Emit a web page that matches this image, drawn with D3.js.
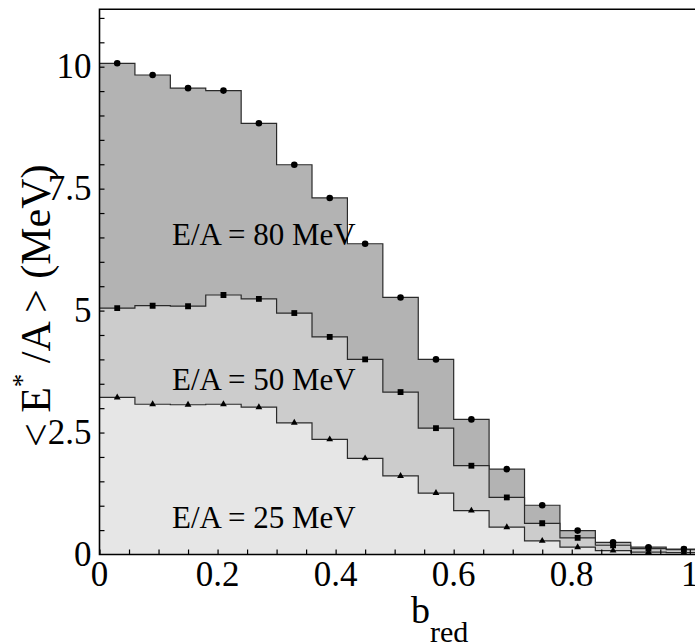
<!DOCTYPE html>
<html>
<head>
<meta charset="utf-8">
<script src="https://cdn.jsdelivr.net/npm/d3@7"></script>
<style>
body{margin:0;background:#fff;}
svg text{font-family:"Liberation Serif","Times New Roman",serif;fill:#000;}
</style>
</head>
<body>
<script>
// b_red bin centres (bins are 0.06 wide)
var bCenters = [0.03,0.09,0.15,0.21,0.27,0.33,0.39,0.45,0.51,0.57,0.63,0.69,0.75,0.81,0.87,0.93,0.99];
var binW = 0.06;
// <E*/A> in MeV for each beam energy
var e80 = [10.07,9.83,9.56,9.51,8.84,7.99,7.31,6.37,5.27,4.00,2.77,1.75,1.01,0.49,0.25,0.15,0.11];
var e50 = [5.05,5.10,5.09,5.32,5.24,4.95,4.46,4.00,3.33,2.59,1.82,1.17,0.64,0.34,0.19,0.12,0.10];
var e25 = [3.22,3.08,3.07,3.08,3.02,2.70,2.36,1.97,1.61,1.26,0.90,0.56,0.28,0.15,0.08,0.05,0.04];
var seriesNames = ["E/A = 80 MeV","E/A = 50 MeV","E/A = 25 MeV"];
var xTickVals = [0,0.2,0.4,0.6,0.8,1];
var xTickText = ["0","0.2","0.4","0.6","0.8","1"];
var yTickVals = [0,2.5,5,7.5,10];
var yTickText = ["0","2.5","5","7.5","10"];

var W=695,H=643;
var svg = d3.select("body").append("svg").attr("width",W).attr("height",H);

var x = d3.scaleLinear().domain([0,1]).range([99.5,689.8]);
var y = d3.scaleLinear().domain([0,10]).range([554.5,66.7]);
var plotTop = 9.3, plotRight = W;

svg.append("clipPath").attr("id","plot")
	.append("rect").attr("x",x(0)).attr("y",plotTop).attr("width",plotRight-x(0)).attr("height",y(0)-plotTop);

var layers = [
	{vals:e80, fill:"#b3b3b3", sym:d3.symbolCircle, size:34, label:seriesNames[0], ly:245},
	{vals:e50, fill:"#cccccc", sym:d3.symbolSquare, size:34, label:seriesNames[1], ly:390},
	{vals:e25, fill:"#e6e6e6", sym:d3.symbolTriangle, size:20, label:seriesNames[2], ly:528}
];

function stepPts(v){
	var p = bCenters.map(function(c,i){return [c-binW/2, v[i]];});
	p.push([bCenters[bCenters.length-1]+binW/2, v[v.length-1]]);
	return p;
}

var area = d3.area().curve(d3.curveStepAfter)
	.x(function(d){return x(d[0]);}).y0(y(0)).y1(function(d){return y(d[1]);});
var line = d3.line().curve(d3.curveStepAfter)
	.x(function(d){return x(d[0]);}).y(function(d){return y(d[1]);});

var g = svg.append("g").attr("clip-path","url(#plot)");

layers.forEach(function(L){
	var pts = stepPts(L.vals);
	g.append("path").attr("d",area(pts)).attr("fill",L.fill);
	g.append("path").attr("d",line(pts)).attr("fill","none").attr("stroke","#2a2a2a").attr("stroke-width",1.2);
	g.selectAll(null).data(L.vals).enter().append("path")
		.attr("d",d3.symbol().type(L.sym).size(L.size))
		.attr("transform",function(d,i){return "translate("+x(bCenters[i])+","+y(d)+")";})
		.attr("fill","#000");
});

layers.forEach(function(L){
	svg.append("text").attr("x",172).attr("y",L.ly).attr("font-size",31).text(L.label);
});

// ticks (inside)
svg.append("g").attr("transform","translate(0,"+y(0)+")")
	.call(d3.axisBottom(x).tickValues(d3.range(0,1.001,0.05)).tickSize(-5).tickFormat(""))
	.call(function(s){s.select(".domain").remove();s.selectAll("line").attr("stroke","#000").attr("stroke-width",1.2);});
svg.append("g").attr("transform","translate("+x(0)+",0)")
	.call(d3.axisLeft(y).tickValues(d3.range(0.5,11.01,0.5)).tickSize(-5).tickFormat(""))
	.call(function(s){s.select(".domain").remove();s.selectAll("line").attr("stroke","#000").attr("stroke-width",1.2);});

// frame
svg.append("path")
	.attr("d","M"+plotRight+","+plotTop+"H"+x(0)+"V"+y(0)+"H"+plotRight)
	.attr("fill","none").attr("stroke","#000").attr("stroke-width",1.6);

// tick labels
svg.selectAll(".xl").data(xTickVals).enter().append("text")
	.attr("x",function(d){return x(d);}).attr("y",585.5)
	.attr("text-anchor","middle").attr("font-size",35)
	.text(function(d,i){return xTickText[i];});
svg.selectAll(".yl").data(yTickVals).enter().append("text")
	.attr("x",91.5).attr("y",function(d){return y(d)+11.5;})
	.attr("text-anchor","end").attr("font-size",35)
	.text(function(d,i){return yTickText[i];});

// axis titles
var xt = svg.append("text").attr("x",411).attr("y",623.3).attr("font-size",38);
xt.append("tspan").text("b");
xt.append("tspan").attr("font-size",30).attr("dy",19).text("red");

var yt = svg.append("text").attr("transform","translate(50,447) rotate(-90)").attr("font-size",42);
yt.append("tspan").text("< E");
yt.append("tspan").attr("font-size",27).attr("dy",-19).text("*");
yt.append("tspan").attr("dy",19).text(" /A > (MeV)");
</script>
</body>
</html>
